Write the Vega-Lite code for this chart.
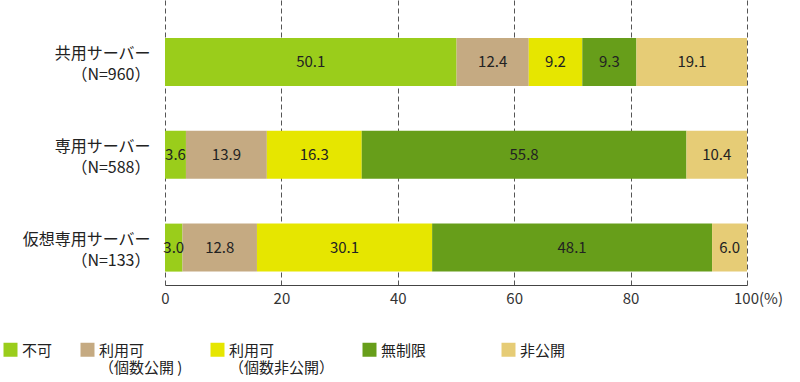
{
  "$schema": "https://vega.github.io/schema/vega-lite/v6.json",
  "width": 582,
  "height": 285,
  "autosize": {"type": "none"},
  "padding": {"left": 165, "top": 0, "right": 53, "bottom": 97},
  "background": "white",
  "config": {
    "view": {"stroke": null},
    "font": "Noto Sans CJK JP"
  },
  "data": {
    "values": [
      {"server": "共用サーバー\n（N=960）", "cat": "不可", "k": 1, "value": 50.1},
      {"server": "共用サーバー\n（N=960）", "cat": "利用可\n（個数公開 )", "k": 2, "value": 12.4},
      {"server": "共用サーバー\n（N=960）", "cat": "利用可\n（個数非公開）", "k": 3, "value": 9.2},
      {"server": "共用サーバー\n（N=960）", "cat": "無制限", "k": 4, "value": 9.3},
      {"server": "共用サーバー\n（N=960）", "cat": "非公開", "k": 5, "value": 19.1},
      {"server": "専用サーバー\n（N=588）", "cat": "不可", "k": 1, "value": 3.6},
      {"server": "専用サーバー\n（N=588）", "cat": "利用可\n（個数公開 )", "k": 2, "value": 13.9},
      {"server": "専用サーバー\n（N=588）", "cat": "利用可\n（個数非公開）", "k": 3, "value": 16.3},
      {"server": "専用サーバー\n（N=588）", "cat": "無制限", "k": 4, "value": 55.8},
      {"server": "専用サーバー\n（N=588）", "cat": "非公開", "k": 5, "value": 10.4},
      {"server": "仮想専用サーバー\n（N=133）", "cat": "不可", "k": 1, "value": 3.0},
      {"server": "仮想専用サーバー\n（N=133）", "cat": "利用可\n（個数公開 )", "k": 2, "value": 12.8},
      {"server": "仮想専用サーバー\n（N=133）", "cat": "利用可\n（個数非公開）", "k": 3, "value": 30.1},
      {"server": "仮想専用サーバー\n（N=133）", "cat": "無制限", "k": 4, "value": 48.1},
      {"server": "仮想専用サーバー\n（N=133）", "cat": "非公開", "k": 5, "value": 6.0}
    ]
  },
  "encoding": {
    "y": {
      "field": "server",
      "type": "nominal",
      "sort": ["共用サーバー\n（N=960）", "専用サーバー\n（N=588）", "仮想専用サーバー\n（N=133）"],
      "scale": {"paddingInner": 0.4825, "paddingOuter": 0.2777, "align": 0.74},
      "axis": {
        "title": null,
        "domain": false,
        "ticks": false,
        "labelExpr": "split(datum.label, '\\n')",
        "labelFontSize": 16,
        "labelLineHeight": 21,
        "labelColor": "#222222",
        "labelPadding": 15,
        "labelAlign": "right",
        "labelOffset": -8,
        "labelLimit": 300
      }
    },
    "x": {
      "field": "value",
      "type": "quantitative",
      "stack": "zero",
      "scale": {"domain": [0, 100], "nice": false, "clamp": true},
      "axis": {
        "title": null,
        "values": [0, 20, 40, 60, 80, 100],
        "grid": true,
        "gridDash": [5, 3],
        "gridColor": "#555555",
        "gridWidth": 1,
        "domain": true,
        "domainColor": "#444444",
        "ticks": false,
        "labelFontSize": 15,
        "labelColor": "#333333",
        "labelPadding": 6,
        "labelExpr": "datum.value == 100 ? '100(%)' : datum.label",
        "labelOffset": {"condition": {"test": "datum.value == 100", "value": 11}, "value": 0},
        "labelFlush": false
      }
    },
    "order": {"field": "k", "type": "quantitative"}
  },
  "layer": [
    {
      "mark": {"type": "bar"},
      "encoding": {
        "color": {
          "field": "cat",
          "type": "nominal",
          "sort": ["不可", "利用可\n（個数公開 )", "利用可\n（個数非公開）", "無制限", "非公開"],
          "scale": {
            "domain": ["不可", "利用可\n（個数公開 )", "利用可\n（個数非公開）", "無制限", "非公開"],
            "range": ["#9ACD1B", "#C5AA82", "#E6E600", "#679E1A", "#E6CC76"]
          },
          "legend": {
            "title": null,
            "orient": "none",
            "legendX": -162,
            "legendY": 342,
            "direction": "horizontal",
            "columns": 5,
            "columnPadding": 27,
            "symbolType": "square",
            "symbolSize": 196,
            "symbolStrokeWidth": 0,
            "labelFontSize": 15,
            "labelColor": "#222222",
            "labelLineHeight": 22,
            "labelBaseline": "top",
            "labelOffset": 4,
            "labelExpr": "indexof(datum.label, '\\n') >= 0 ? split(datum.label, '\\n') : [datum.label == '無制限' ? datum.label + '\u00a0\u00a0\u00a0\u00a0\u00a0\u00a0\u00a0\u00a0\u00a0\u00a0\u00a0\u00a0\u00a0\u00a0\u200b' : datum.label, ' ']",
            "labelLimit": 200,
            "encode": {"labels": {"update": {"dy": {"value": -6}}}}
          }
        }
      }
    },
    {
      "mark": {"type": "text", "fontSize": 15, "color": "#222222"},
      "encoding": {
        "x": {"field": "value", "type": "quantitative", "stack": "zero", "bandPosition": 0.5},
        "text": {"field": "value", "type": "quantitative", "format": ".1f"}
      }
    }
  ]
}
